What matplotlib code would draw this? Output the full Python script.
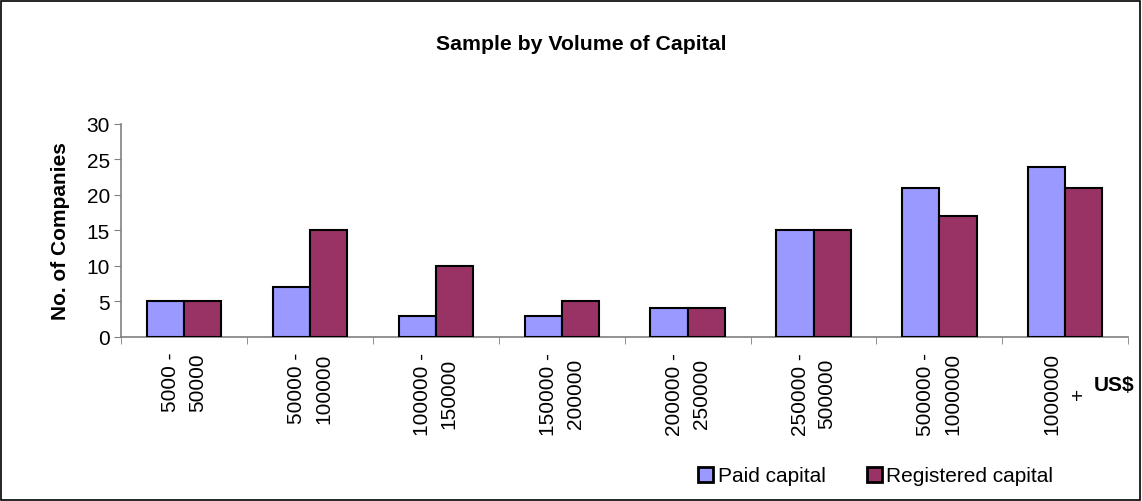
import matplotlib
matplotlib.use("Agg")
import matplotlib.pyplot as plt
import matplotlib.transforms as mtransforms
import numpy as np
from matplotlib.patches import Rectangle

plt.rcParams['font.family'] = ['Liberation Sans', 'DejaVu Sans']

categories = ["5000 -\n50000", "50000 -\n100000", "100000 -\n150000", "150000 -\n200000",
              "200000 -\n250000", "250000 -\n500000", "500000 -\n1000000", "1000000\n+"]
paid_capital = [5, 7, 3, 3, 4, 15, 21, 24]
registered_capital = [5, 15, 10, 5, 4, 15, 17, 21]

fig = plt.figure(figsize=(11.42, 5.02), dpi=100)
ax = fig.add_axes([0.106, 0.327, 0.882, 0.424])

x = np.arange(len(categories))
w = 0.295
ax.bar(x - w / 2, paid_capital, w, color="#9999FF", edgecolor="black", linewidth=1.5,
       label="Paid capital", zorder=3)
ax.bar(x + w / 2, registered_capital, w, color="#993366", edgecolor="black", linewidth=1.5,
       label="Registered capital", zorder=3)

ax.set_xlim(-0.5, len(categories) - 0.5)
ax.set_ylim(0, 30)
ax.set_yticks(range(0, 31, 5))
ax.tick_params(axis='y', labelsize=15, direction='out', length=5, color='#808080', pad=3)

# tick marks sit on the group boundaries; category names are drawn separately below
ax.set_xticks(x)
ax.set_xticklabels([])
ax.tick_params(axis='x', which='major', length=0)
ax.set_xticks(np.arange(-0.5, len(categories)), minor=True)
ax.tick_params(axis='x', which='minor', length=5, direction='out', color='#808080')

# rotated category names: one text per line, all lines of a name centred on the
# same point, with the longest line starting a fixed distance under the axis
renderer = fig.canvas.get_renderer()
base = mtransforms.blended_transform_factory(ax.transData, ax.transAxes)
line_gap_px = 27
top_gap_px = 15
for i, cat in enumerate(categories):
    lines = cat.split("\n")
    probes = [fig.text(0, 0, line, rotation=90, fontsize=15) for line in lines]
    longest = max(p.get_window_extent(renderer).height for p in probes)
    for p in probes:
        p.remove()
    for j, line in enumerate(lines):
        dx = (j - (len(lines) - 1) / 2) * line_gap_px
        dy = -(top_gap_px + longest / 2)
        off = mtransforms.ScaledTranslation(dx / fig.dpi, dy / fig.dpi, fig.dpi_scale_trans)
        ax.text(i, 0, line, transform=base + off, rotation=90,
                ha='center', va='center', fontsize=15, clip_on=False)

for side in ['top', 'right']:
    ax.spines[side].set_visible(False)
for side in ['left', 'bottom']:
    ax.spines[side].set_color('#808080')
    ax.spines[side].set_linewidth(1.2)

ax.set_ylabel("No. of Companies", fontsize=15, fontweight='bold', labelpad=12)
fig.text(0.509, 0.912, "Sample by Volume of Capital", ha='center', va='center',
         fontsize=15.3, fontweight='bold')
fig.text(0.9755, 0.233, "US$", ha='center', va='center', fontsize=15, fontweight='bold')

leg = fig.legend(loc='center', bbox_to_anchor=(0.767, 0.05), ncol=2, frameon=False,
                 fontsize=15, handlelength=0.72, handleheight=0.72, handletextpad=0.2,
                 columnspacing=2.0)
for h in leg.legend_handles:
    h.set_linewidth(2)

fig.patches.append(Rectangle((0.001, 0.002), 0.997, 0.995, transform=fig.transFigure,
                             fill=False, edgecolor='black', linewidth=1.2))

fig.savefig("out.png", dpi=100)
